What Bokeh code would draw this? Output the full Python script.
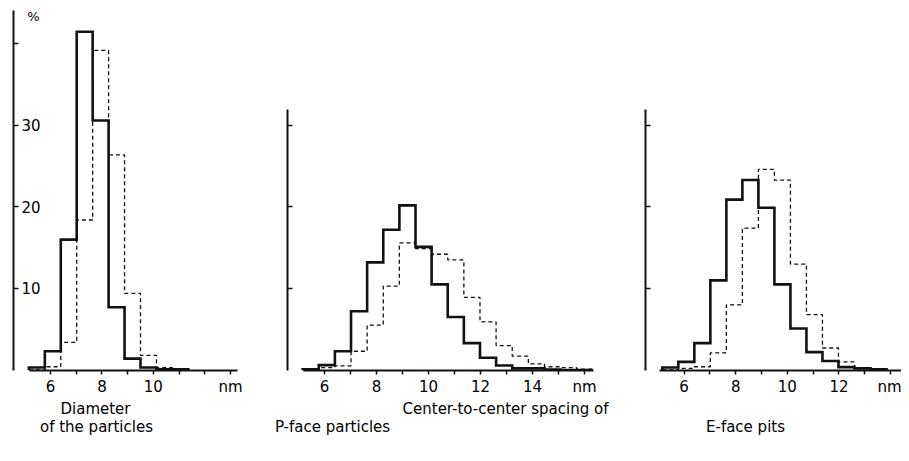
import numpy as np
from bokeh.plotting import figure
from bokeh.models import Range1d, FixedTicker, Label
from bokeh.layouts import row, column
from bokeh.core.properties import value
from bokeh.embed import file_html
from bokeh.resources import INLINE

# ---- data (percent per bin, bins of equal width starting at bin_start, nm) ----
bin_start = 5.16
bin_width = 0.62

diam_solid = [0.3, 2.3, 16.0, 41.5, 30.6, 7.7, 1.4, 0.3, 0.1, 0.1]
diam_dashed = [0.0, 0.4, 3.4, 18.4, 39.2, 26.4, 9.4, 1.8, 0.3, 0.1]

pface_solid = [0.1, 0.6, 2.3, 7.2, 13.2, 17.2, 20.2, 15.1, 10.5, 6.5, 3.3, 1.5, 0.55, 0.2, 0.2, 0.05, 0.0, 0.0]
pface_dashed = [0.0, 0.3, 0.5, 2.3, 5.5, 10.3, 15.6, 14.9, 14.2, 13.5, 8.9, 5.9, 3.0, 1.7, 0.75, 0.4, 0.3, 0.1]

eface_solid = [0.3, 1.0, 3.3, 11.0, 20.9, 23.3, 19.9, 10.5, 5.1, 2.2, 1.1, 0.35, 0.2, 0.1]
eface_dashed = [0.0, 0.2, 0.4, 2.1, 8.0, 17.4, 24.6, 23.3, 13.0, 6.8, 2.7, 1.0, 0.3, 0.1]

y_ticks_left = [10, 20, 30]
y_minor_left = [40]
y_ticks_other = [10, 20, 30]

x_major_left = [6, 8, 10, 13]
x_minor_left = [7, 9, 11, 12]
x_major_mid = [6, 8, 10, 12, 14, 16]
x_minor_mid = [7, 9, 11, 13, 15]
x_major_right = [6, 8, 10, 12, 14]
x_minor_right = [7, 9, 11, 13]
unit_label = "nm"
y_unit = "%"

captions = ["Diameter", "of the particles", "Center-to-center spacing of",
            "P-face particles", "E-face pits"]
caption_x = [95, 96, 505, 332, 745]   # page pixels
caption_y = [8, 26, 8, 26, 26]        # pixels below the panels

FONT = "DejaVu Sans"
INK = "#111111"


def outline(vals):
    edges = bin_start + bin_width * np.arange(len(vals) + 1)
    xs = np.repeat(edges, 2)
    ys = np.concatenate([[0.0], np.repeat(np.asarray(vals, float), 2), [0.0]])
    return xs, ys


def make_panel(width, border_left, xr, ybound, xbound, solid, dashed,
               xmajor, xminor, ymajor, yminor):
    p = figure(width=width, height=400, x_range=Range1d(*xr), y_range=Range1d(-0.06, 44.1),
               output_backend="svg", toolbar_location=None,
               min_border_left=border_left, min_border_right=0,
               min_border_top=10, min_border_bottom=30)
    p.grid.visible = False
    p.outline_line_color = None
    p.background_fill_color = "white"
    p.border_fill_color = "white"

    xd, yd = outline(dashed)
    p.line(xd, yd, line_color=INK, line_width=1.3, line_dash="4 3")
    xs, ys = outline(solid)
    p.line(xs, ys, line_color=INK, line_width=2.6, line_join="miter")

    xa = p.xaxis[0]
    xa.ticker = FixedTicker(ticks=xmajor, minor_ticks=xminor)
    xa.major_label_overrides = {xmajor[-1]: unit_label}
    xa.bounds = xbound
    xa.axis_line_width = 2
    xa.axis_line_color = INK
    xa.major_tick_in = 0
    xa.major_tick_out = 4
    xa.minor_tick_in = 0
    xa.minor_tick_out = 4
    xa.major_tick_line_width = 1.5
    xa.minor_tick_line_width = 1.5
    xa.major_tick_line_color = INK
    xa.minor_tick_line_color = INK
    xa.major_label_standoff = 3
    xa.major_label_text_font = FONT
    xa.major_label_text_font_size = "15px"
    xa.major_label_text_color = "black"

    ya = p.yaxis[0]
    ya.ticker = FixedTicker(ticks=ymajor, minor_ticks=yminor)
    ya.bounds = ybound
    ya.axis_line_width = 2
    ya.axis_line_color = INK
    ya.major_tick_in = 5
    ya.major_tick_out = 0
    ya.minor_tick_in = 5
    ya.minor_tick_out = 0
    ya.major_tick_line_width = 1.5
    ya.minor_tick_line_width = 1.5
    ya.major_tick_line_color = INK
    ya.minor_tick_line_color = INK
    ya.major_label_standoff = -27
    ya.major_label_text_font = FONT
    ya.major_label_text_font_size = "15px"
    ya.major_label_text_color = "black"
    return p


p1 = make_panel(267, 13, (4.561, 14.44), (0, 44.3), (5.2, 13.27),
                diam_solid, diam_dashed, x_major_left, x_minor_left,
                y_ticks_left, y_minor_left)
p2 = make_panel(373, 20, (4.577, 18.154), (0, 31.9), (5.2, 16.35),
                pface_solid, pface_dashed, x_major_mid, x_minor_mid,
                [], y_ticks_other)
p3 = make_panel(261, 5, (4.509, 14.42), (0, 31.9), (5.05, 15.0),
                eface_solid, eface_dashed, x_major_right, x_minor_right,
                [], y_ticks_other)

p1.add_layout(Label(x=5.34, y=43.4, text=y_unit, text_align="center", text_baseline="middle",
                    text_font=FONT, text_font_size="13px", text_color="black"))

# caption strip below the three panels
p4 = figure(width=901, height=45, x_range=Range1d(0, 901), y_range=Range1d(45, 0),
            output_backend="svg", toolbar_location=None,
            min_border_left=0, min_border_right=0, min_border_top=0, min_border_bottom=0)
p4.axis.visible = False
p4.grid.visible = False
p4.outline_line_color = None
p4.text(x=caption_x, y=caption_y, text=captions, text_align="center",
        text_baseline="middle", text_font=value(FONT), text_font_size=value("15px"),
        text_color="black")

layout = column(row(p1, p2, p3, spacing=0), p4, spacing=0)
open("out.html", "w").write(file_html(layout, INLINE))
